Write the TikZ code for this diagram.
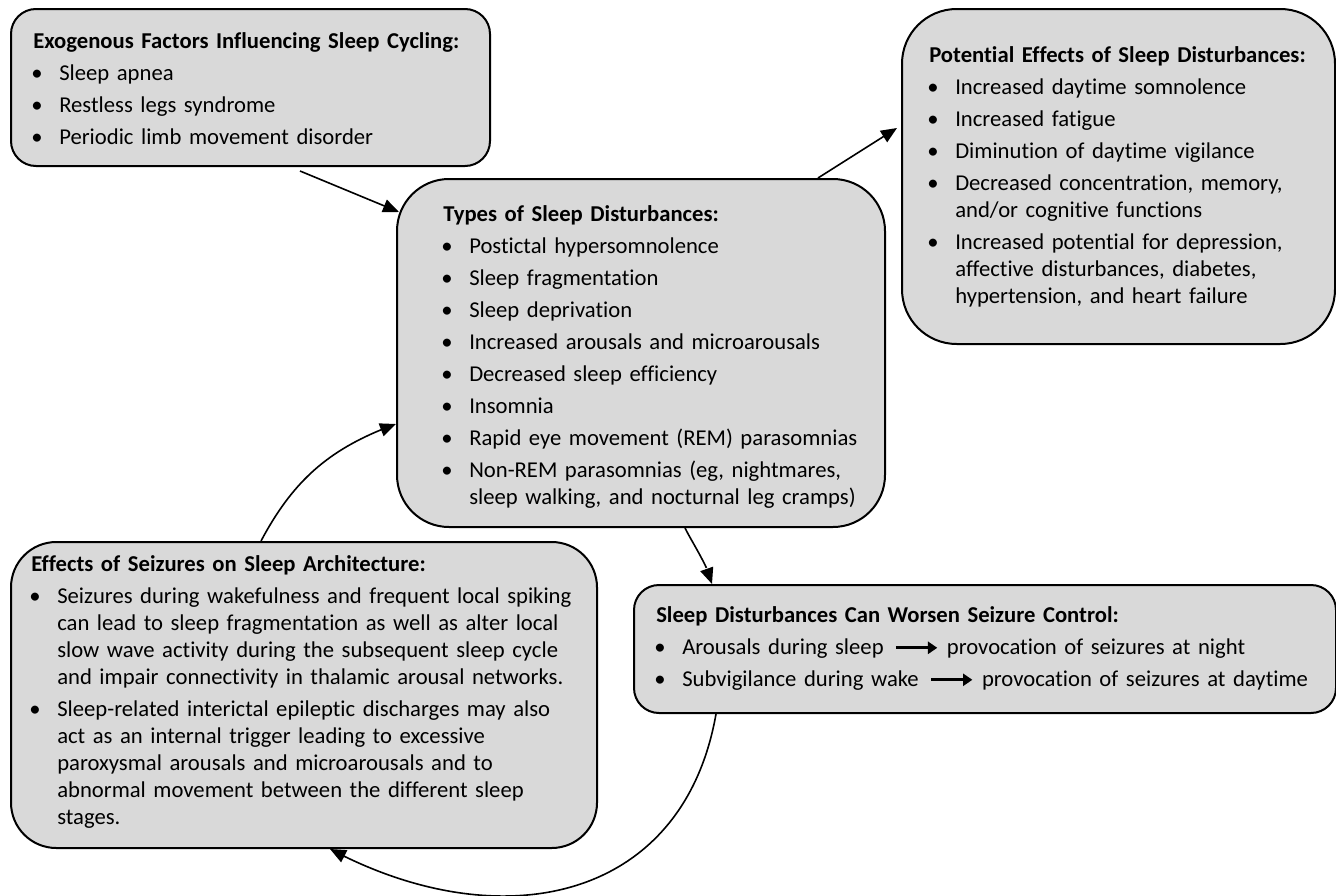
\documentclass[tikz,border=0pt]{standalone}
\usepackage{fontspec}
\setmainfont{Carlito}[Ligatures=NoCommon]
\usetikzlibrary{arrows.meta,calc,bending}
\definecolor{boxfill}{RGB}{217,217,217}
\newcommand{\hd}[1]{\setlength{\parskip}{3.75pt}\rule{0pt}{16pt}\textbf{#1}\par}
\newcommand{\bi}[1]{\hangindent=19.5pt\hangafter=1\noindent\makebox[19.5pt][l]{\hspace*{-1.5pt}\textbullet}#1\par}
\newcommand{\tarr}{\tikz[baseline=-0.6ex]\draw[line width=2.4pt,-{Triangle[length=7pt,width=9pt]}] (0pt,0pt) -- (31pt,0pt);}
\begin{document}
\begin{tikzpicture}[x=0.75pt,y=-0.75pt,
 box/.style={draw=black, line width=1.5pt, fill=boxfill, inner sep=0pt, anchor=north west},
 txt/.style={anchor=north west, inner sep=0pt, text width=520pt, align=left, font=\fontsize{17}{20.25}\selectfont},
 conn/.style={line width=1.2pt, -{Triangle[length=12pt,width=10pt]}}]
\useasboundingbox (0,0) rectangle (1336,896);

\node[box, rounded corners=18.75pt, minimum width=359.25pt, minimum height=117.75pt] (b1) at (10,8) {};
\node[box, rounded corners=41pt, minimum width=324.75pt, minimum height=251.25pt] (b2) at (901,8) {};
\node[box, rounded corners=39pt, minimum width=366pt, minimum height=261pt] (b3) at (396,178) {};
\node[box, rounded corners=34pt, minimum width=439.5pt, minimum height=229.5pt] (b4) at (10,541) {};
\node[box, rounded corners=18.75pt, minimum width=526.5pt, minimum height=96pt] (b5) at (633,584) {};

\node[txt] (t1) at (33,26.7) {\hd{Exogenous Factors Influencing Sleep Cycling:}
\bi{Sleep apnea}
\bi{Restless legs syndrome}
\bi{Periodic limb movement disorder}};

\node[txt] (t2) at (929,40.7) {\hd{Potential Effects of Sleep Disturbances:}
\bi{Increased daytime somnolence}
\bi{Increased fatigue}
\bi{Diminution of daytime vigilance}
\bi{Decreased concentration, memory,\newline and/or cognitive functions}
\bi{Increased potential for depression,\newline affective disturbances, diabetes,\newline hypertension, and heart failure}};

\node[txt] (t3) at (443,199.7) {\hd{Types of Sleep Disturbances:}
\bi{Postictal hypersomnolence}
\bi{Sleep fragmentation}
\bi{Sleep deprivation}
\bi{Increased arousals and microarousals}
\bi{Decreased sleep efficiency}
\bi{Insomnia}
\bi{Rapid eye movement (REM) parasomnias}
\bi{Non-REM parasomnias (eg, nightmares,\newline sleep walking, and nocturnal leg cramps)}};

\node[txt] (t4) at (31,549.7) {\hd{Effects of Seizures on Sleep Architecture:}
\bi{Seizures during wakefulness and frequent local spiking\newline can lead to sleep fragmentation as well as alter local\newline slow wave activity during the subsequent sleep cycle\newline and impair connectivity in thalamic arousal networks.}
\bi{Sleep-related interictal epileptic discharges may also\newline act as an internal trigger leading to excessive\newline paroxysmal arousals and microarousals and to\newline abnormal movement between the different sleep\newline stages.}};

\node[txt] (t5) at (656,600.7) {\hd{Sleep Disturbances Can Worsen Seizure Control:}
\bi{Arousals during sleep\hspace{8pt}\tarr\hspace{6pt}provocation of seizures at night}
\bi{Subvigilance during wake\hspace{8pt}\tarr\hspace{6pt}provocation of seizures at daytime}};

\coordinate (a1s) at (300,171);
\draw[conn] (a1s) -- ($(b3.north west)+(3,34)$);
\draw[conn] ($(b3.north west)+(422,0)$) -- ($(b2.north west)+(-4,120)$);
\draw[conn] ($(b3.south west)+(289,0)$) to[out=-64,in=98,looseness=0.6] ($(b5.north west)+(79,0)$);
\draw[conn] ($(b4.north west)+(251,0)$) to[out=62,in=200] ($(b3.north west)+(0,246)$);
\draw[conn] ($(b5.south west)+(83,0)$) to[out=-100,in=-28,looseness=1.2] ($(b4.south west)+(320,0)$);
\end{tikzpicture}
\end{document}
